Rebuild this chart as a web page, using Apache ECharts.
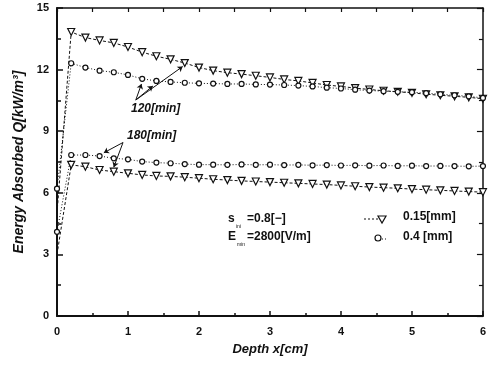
<!DOCTYPE html>
<html>
<head>
<meta charset="utf-8">
<script src="https://cdn.jsdelivr.net/npm/echarts@6/dist/echarts.min.js"></script>
<style>
  html, body { margin: 0; padding: 0; background: #fff; }
  #chart { width: 489px; height: 367px; }
</style>
</head>
<body>
<div id="chart"></div>
<script>
// depth x [cm]
const depth = [0, 0.2, 0.4, 0.6, 0.8, 1.0, 1.2, 1.4, 1.6, 1.8, 2.0, 2.2, 2.4, 2.6, 2.8, 3.0,
  3.2, 3.4, 3.6, 3.8, 4.0, 4.2, 4.4, 4.6, 4.8, 5.0, 5.2, 5.4, 5.6, 5.8, 6.0];

// energy absorbed Q [kW/m3]
const q120Fine = [5.0, 13.83, 13.56, 13.42, 13.3, 13.1, 12.85, 12.65, 12.5, 12.32, 12.1, 11.95, 11.85, 11.78, 11.7, 11.62,
  11.52, 11.45, 11.35, 11.25, 11.18, 11.1, 11.03, 10.97, 10.92, 10.87, 10.8, 10.75, 10.7, 10.65, 10.58];
const q120Coarse = [6.2, 12.31, 12.1, 11.95, 11.87, 11.74, 11.55, 11.45, 11.4, 11.36, 11.33, 11.32, 11.3, 11.3, 11.28, 11.27,
  11.25, 11.22, 11.18, 11.12, 11.08, 11.02, 10.98, 10.95, 10.92, 10.9, 10.85, 10.8, 10.75, 10.7, 10.62];
const q180Fine = [3.0, 7.36, 7.27, 7.11, 7.03, 6.95, 6.87, 6.82, 6.8, 6.76, 6.71, 6.66, 6.62, 6.58, 6.55, 6.52,
  6.49, 6.46, 6.43, 6.4, 6.36, 6.32, 6.28, 6.25, 6.22, 6.18, 6.15, 6.12, 6.09, 6.06, 6.03];
const q180Coarse = [4.1, 7.84, 7.84, 7.79, 7.68, 7.63, 7.52, 7.47, 7.44, 7.4, 7.37, 7.37, 7.36, 7.38, 7.36, 7.37,
  7.35, 7.36, 7.34, 7.35, 7.33, 7.34, 7.32, 7.33, 7.31, 7.32, 7.3, 7.31, 7.3, 7.29, 7.3];

const xTicks = [0, 1, 2, 3, 4, 5, 6];
const yTicks = [0, 3, 6, 9, 12, 15];

// arrows for the time labels, in data units
const arrows120 = [[[1.11, 10.52], [1.19, 11.3]], [[1.11, 10.52], [1.35, 11.2]], [[1.11, 10.52], [1.77, 12.15]]];
const arrows180 = [[[0.93, 8.45], [0.66, 7.95]], [[0.93, 8.45], [0.8, 7.25]]];

const ink = '#111';
const font = '"Liberation Sans", Arial, sans-serif';

function pairs(ys, hideFirst) {
  return depth.map((x, i) => {
    if (i === 0 && hideFirst) return { value: [x, ys[i]], symbol: 'none' };
    return [x, ys[i]];
  });
}

function arrowData(list) {
  return list.map(seg => [{ coord: seg[0] }, { coord: seg[1] }]);
}

const triMarker = {
  symbol: 'triangle',
  symbolRotate: 180,
  symbolSize: 7,
  itemStyle: { color: '#fff', borderColor: ink, borderWidth: 1.2 },
  lineStyle: { color: ink, width: 1, type: [3, 2] }
};
const circMarker = {
  symbol: 'circle',
  symbolSize: 5,
  itemStyle: { color: '#fff', borderColor: ink, borderWidth: 1.2 },
  lineStyle: { color: ink, width: 1, type: [1, 2] }
};

function makeSeries(name, ys, style, arrows, hideFirst) {
  const s = Object.assign({
    name: name,
    type: 'line',
    data: pairs(ys, hideFirst),
    showAllSymbol: true,
    animation: false,
    z: 3
  }, style);
  if (arrows) {
    s.markLine = {
      silent: true,
      symbol: ['none', 'arrow'],
      symbolSize: 5,
      label: { show: false },
      lineStyle: { color: ink, width: 1, type: 'solid' },
      data: arrowData(arrows)
    };
  }
  return s;
}

const chart = echarts.init(document.getElementById('chart'));

const labelStyle = { color: ink, fontFamily: font, fontWeight: 'bold', fontSize: 11 };

chart.setOption({
  backgroundColor: '#fff',
  animation: false,
  grid: { left: 57, right: 1, top: 8, bottom: 51, containLabel: false },
  xAxis: [{
    type: 'value', min: 0, max: 6, interval: 1, position: 'bottom',
    name: 'Depth x[cm]', nameLocation: 'middle', nameGap: 27,
    nameTextStyle: { color: ink, fontFamily: font, fontStyle: 'italic', fontWeight: 'bold', fontSize: 13 },
    axisLine: { onZero: false, lineStyle: { color: ink, width: 2 } },
    axisTick: { inside: true, length: 5, lineStyle: { color: ink, width: 1.5 } },
    minorTick: { show: true, splitNumber: 2, length: 3, lineStyle: { color: ink, width: 1.5 } },
    axisLabel: Object.assign({ margin: 10, formatter: v => xTicks.includes(v) ? String(v) : '' }, labelStyle),
    splitLine: { show: false }
  }, {
    type: 'value', min: 0, max: 6, interval: 0.5, position: 'top',
    axisLine: { onZero: false, lineStyle: { color: ink, width: 1.5 } },
    axisTick: { inside: true, length: 4, lineStyle: { color: ink, width: 1.2 } },
    axisLabel: { show: false },
    splitLine: { show: false }
  }],
  yAxis: [{
    type: 'value', min: 0, max: 15, interval: 3, position: 'left',
    name: 'Energy Absorbed Q[kW/m\u00b3]', nameLocation: 'middle', nameGap: 29,
    nameTextStyle: { color: ink, fontFamily: font, fontStyle: 'italic', fontWeight: 'bold', fontSize: 14 },
    axisLine: { onZero: false, lineStyle: { color: ink, width: 2 } },
    axisTick: { inside: true, length: 6, lineStyle: { color: ink, width: 1.5 } },
    minorTick: { show: true, splitNumber: 2, length: 4, lineStyle: { color: ink, width: 1.5 } },
    axisLabel: Object.assign({ margin: 8, formatter: v => yTicks.includes(v) ? String(v) : '' }, labelStyle),
    splitLine: { show: false }
  }, {
    type: 'value', min: 0, max: 15, interval: 3, position: 'right',
    axisLine: { onZero: false, lineStyle: { color: ink, width: 1.5 } },
    axisTick: { inside: true, length: 6, lineStyle: { color: ink, width: 1.2 } },
    minorTick: { show: true, splitNumber: 2, length: 4, lineStyle: { color: ink, width: 1.2 } },
    axisLabel: { show: false },
    splitLine: { show: false }
  }],
  series: [
    makeSeries('0.15[mm] 120', q120Fine, triMarker, arrows120, true),
    makeSeries('0.4 [mm] 120', q120Coarse, circMarker),
    makeSeries('0.15[mm] 180', q180Fine, triMarker, arrows180, true),
    makeSeries('0.4 [mm] 180', q180Coarse, circMarker)
  ],
  graphic: [
    // time labels
    { type: 'text', left: 131, top: 103, style: { text: '120[min]', fill: ink, font: 'italic bold 12px ' + font } },
    { type: 'text', left: 127, top: 130, style: { text: '180[min]', fill: ink, font: 'italic bold 12px ' + font } },
    // conditions
    { type: 'text', left: 228, top: 213, style: { text: 's', fill: ink, font: 'bold 12px ' + font } },
    { type: 'text', left: 236, top: 224, style: { text: 'ini', fill: ink, font: '5px ' + font } },
    { type: 'text', left: 247, top: 213, style: { text: '=0.8[\u2212]', fill: ink, font: 'bold 12px ' + font } },
    { type: 'text', left: 228, top: 231, style: { text: 'E', fill: ink, font: 'bold 12px ' + font } },
    { type: 'text', left: 237, top: 242, style: { text: 'min', fill: ink, font: '5px ' + font } },
    { type: 'text', left: 247, top: 231, style: { text: '=2800[V/m]', fill: ink, font: 'bold 12px ' + font } },
    // legend
    { type: 'line', shape: { x1: 364, y1: 219, x2: 378, y2: 219 }, style: { stroke: ink, lineWidth: 1, lineDash: [2, 2] } },
    { type: 'polygon', shape: { points: [[378, 216], [386, 216], [382, 223]] }, style: { fill: '#fff', stroke: ink, lineWidth: 1.2 } },
    { type: 'text', left: 403, top: 211, style: { text: '0.15[mm]', fill: ink, font: 'bold 12px ' + font } },
    { type: 'circle', shape: { cx: 378, cy: 238, r: 3 }, style: { fill: '#fff', stroke: ink, lineWidth: 1.2 } },
    { type: 'line', shape: { x1: 382, y1: 239, x2: 386, y2: 239 }, style: { stroke: ink, lineWidth: 1, lineDash: [1, 2] } },
    { type: 'text', left: 403, top: 231, style: { text: '0.4 [mm]', fill: ink, font: 'bold 12px ' + font } }
  ]
});
</script>
</body>
</html>
